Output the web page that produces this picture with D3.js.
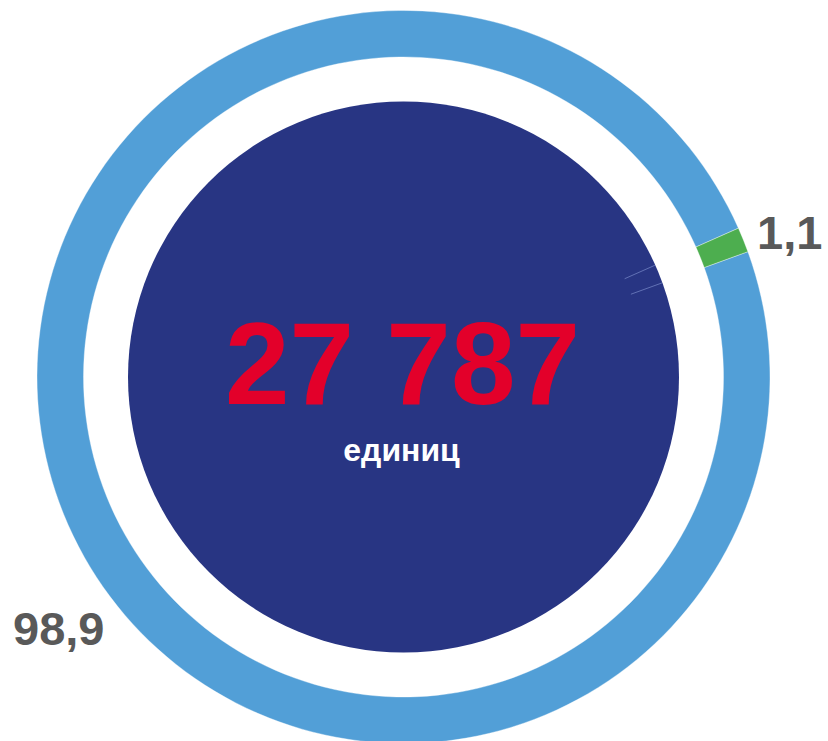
<!DOCTYPE html>
<html><head><meta charset="utf-8">
<script src="https://cdn.jsdelivr.net/npm/d3@7"></script>
<style>html,body{margin:0;padding:0;background:#fff;}svg{display:block;}</style>
</head><body>
<script>
const categories = ["main", "other"];
const values = [98.9, 1.1];
const labels = ["98,9", "1,1"];
const colors = ["#529FD7", "#4DAE4F"];
const centerValue = "27 787";
const centerUnit = "единиц";

const W = 828, H = 741;
const cx = 403.5, cy = 377;
const svg = d3.select("body").append("svg").attr("width", W).attr("height", H);
const g = svg.append("g").attr("transform", `translate(${cx},${cy})`);

const deg = Math.PI / 180;
const pie = d3.pie().sort(null).value(d => d).startAngle(70 * deg).endAngle(430 * deg);
const arcs = pie(values);

// outer ring
const ring = d3.arc().innerRadius(320).outerRadius(366.5);
g.selectAll("path.ring").data(arcs).join("path")
  .attr("class", "ring")
  .attr("d", ring)
  .attr("fill", (d, i) => colors[i])
  .attr("stroke", "#ffffff").attr("stroke-width", 0.6).attr("stroke-opacity", 0.6);

// inner disc
g.append("circle").attr("r", 275.5).attr("fill", "#283583");

// faint slice edges on inner disc
const edgeAngles = [arcs[1].startAngle, arcs[1].endAngle];
g.selectAll("line.edge").data(edgeAngles).join("line")
  .attr("class", "edge")
  .attr("x1", a => 242 * Math.sin(a)).attr("y1", a => -242 * Math.cos(a))
  .attr("x2", a => 275 * Math.sin(a)).attr("y2", a => -275 * Math.cos(a))
  .attr("stroke", "#6f7fc0").attr("stroke-width", 1).attr("stroke-opacity", 0.8);

// center text
g.append("text").attr("x", -1).attr("y", 27)
  .attr("text-anchor", "middle")
  .attr("font-family", "Liberation Sans, Arial, sans-serif")
  .attr("font-weight", "bold").attr("font-size", 116)
  .attr("fill", "#E3002A").text(centerValue);
g.append("text").attr("x", -2).attr("y", 84)
  .attr("text-anchor", "middle")
  .attr("font-family", "Liberation Sans, Arial, sans-serif")
  .attr("font-weight", "bold").attr("font-size", 32)
  .attr("fill", "#ffffff").text(centerUnit);

// labels
const labelPos = [[13, 645, "start"], [757, 249, "start"]];
svg.selectAll("text.lbl").data(labels).join("text")
  .attr("class", "lbl")
  .attr("x", (d, i) => labelPos[i][0]).attr("y", (d, i) => labelPos[i][1])
  .attr("text-anchor", (d, i) => labelPos[i][2])
  .attr("font-family", "Liberation Sans, Arial, sans-serif")
  .attr("font-weight", "bold").attr("font-size", 47)
  .attr("fill", "#595959").text(d => d);
</script>
</body></html>
